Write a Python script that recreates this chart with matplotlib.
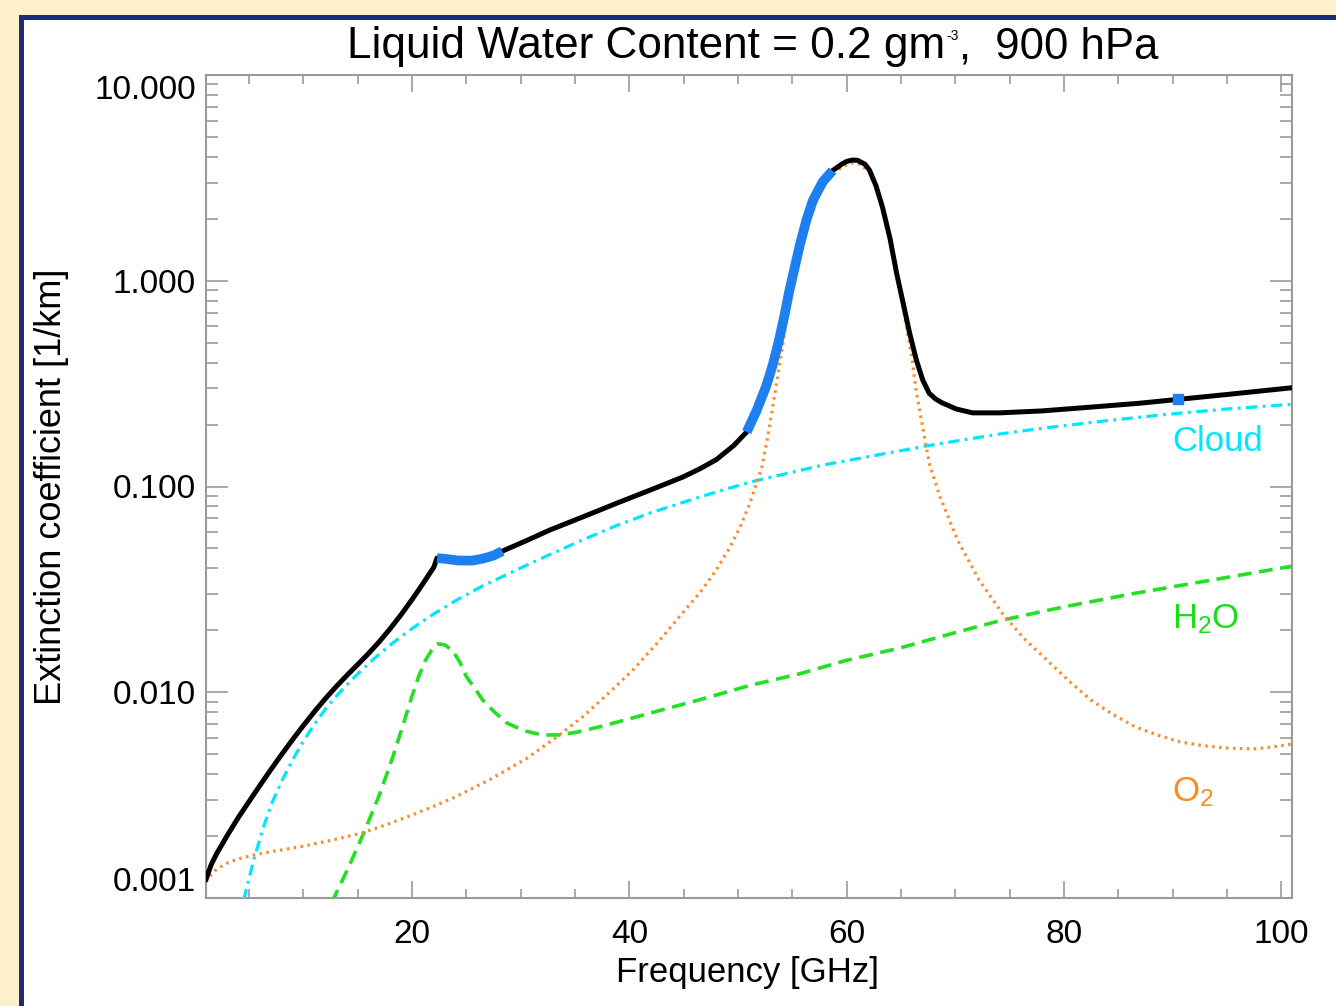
import matplotlib
matplotlib.use("Agg")
import matplotlib.pyplot as plt
from matplotlib.patches import Rectangle
from matplotlib.ticker import FixedLocator, NullFormatter

plt.rcParams['font.family'] = ['Liberation Sans', 'DejaVu Sans']
plt.rcParams['mathtext.fontset'] = 'custom'
plt.rcParams['mathtext.rm'] = 'Liberation Sans'
plt.rcParams['mathtext.default'] = 'regular'
plt.rcParams['lines.scale_dashes'] = False

# ---------------- data ----------------
total_f = [1.0, 1.5, 2.0, 3.0, 4.0, 5.0, 6.0, 7.0, 8.0, 9.0, 10.0, 11.0, 12.0, 13.0, 14.0,
           15.0, 16.0, 17.0, 18.0, 19.0, 20.0, 21.0, 22.0, 22.3]
total_v = [0.00122, 0.00145, 0.00164, 0.00202, 0.00246, 0.00295, 0.00353, 0.00421, 0.00499,
           0.00589, 0.00690, 0.00804, 0.00929, 0.01064, 0.01208, 0.01365, 0.01545, 0.01766,
           0.02042, 0.02388, 0.02825, 0.03373, 0.04055, 0.0449]
total_f += [23.2, 24.2, 25.5, 26.5, 27.5, 28.3, 30.5, 32.7, 35.7, 38.9, 41.9, 44.9, 46.5, 48.0,
            49.6, 50.8, 51.7, 52.6, 53.2, 53.8, 54.3, 54.7, 55.2, 55.7, 56.3, 56.9, 57.8, 58.7,
            59.6, 60.0, 60.5, 61.0, 61.7, 62.1, 62.7, 63.3, 64.0, 64.6, 65.2, 65.8, 66.4, 67.0,
            67.6, 68.2, 68.8, 70.1, 71.6, 74.1, 78.0, 83.3, 87.0, 90.5, 95.0, 101.0]
total_v += [0.0444, 0.0437, 0.0436, 0.0446, 0.0462, 0.0485, 0.0545, 0.0615, 0.0711, 0.0832,
            0.096, 0.111, 0.122, 0.135, 0.158, 0.184, 0.233, 0.308, 0.390, 0.521, 0.687, 0.88,
            1.148, 1.496, 1.972, 2.460, 3.027, 3.428, 3.70, 3.80, 3.86, 3.85, 3.68, 3.45, 2.90,
            2.28, 1.60, 1.09, 0.78, 0.557, 0.415, 0.330, 0.284, 0.266, 0.255, 0.238, 0.228,
            0.228, 0.233, 0.245, 0.254, 0.265, 0.280, 0.302]

# frequency ranges of the total curve highlighted in blue, and a single blue channel mark
band_ranges = [(22.3, 28.3), (50.8, 58.7)]
channel_marks_f = [90.5]

cloud_f = [4.5, 5.0, 5.5, 6.3, 7.1, 8.0, 9.0, 10.0, 11.1, 12.1, 13.2, 14.3, 15.4, 16.6, 17.8,
           19.1, 20.5, 22.0, 23.8, 26.5, 29.6, 32.6, 35.7, 38.8, 41.9, 46.5, 51.1, 57.8, 67.5,
           74.1, 78.4, 84.0, 89.4, 95.0, 101.0]
cloud_v = [0.00098, 0.00125, 0.00158, 0.0022, 0.0029, 0.0037, 0.00469, 0.0058, 0.0071, 0.0084,
           0.00979, 0.0113, 0.01288, 0.01472, 0.01667, 0.01884, 0.02128, 0.02404, 0.02748,
           0.03289, 0.03926, 0.0465, 0.055, 0.0645, 0.0743, 0.089, 0.105, 0.127, 0.158, 0.180,
           0.193, 0.209, 0.224, 0.238, 0.251]

h2o_f = [12.6, 14.2, 15.7, 17.0, 18.2, 19.1, 20.0, 20.6, 21.2, 21.8, 22.4, 23.0, 23.7, 24.4,
         25.0, 25.8, 26.5, 27.6, 28.7, 30.3, 32.0, 33.6, 35.2, 37.3, 39.5, 41.9, 46.5, 51.1,
         55.7, 60.0, 64.9, 70.0, 74.3, 80.0, 86.6, 92.5, 101.0]
h2o_v = [0.00095, 0.00143, 0.00216, 0.00318, 0.0048, 0.00675, 0.0096, 0.0119, 0.0142, 0.0160,
         0.0172, 0.0170, 0.0160, 0.0140, 0.0119, 0.0104, 0.00916, 0.0080, 0.0071, 0.0065,
         0.0062, 0.0062, 0.0064, 0.0068, 0.0073, 0.00792, 0.0092, 0.0108, 0.0123, 0.0143,
         0.0164, 0.0195, 0.0224, 0.0260, 0.0303, 0.0343, 0.0410]

o2_f = [1.0, 1.5, 2.0, 3.0, 4.0, 5.5, 7.0, 8.5, 10.1, 12.8, 15.4, 17.4, 19.3, 21.7, 24.0, 27.3,
        30.6, 33.2, 35.7, 38.0, 40.3, 42.6, 44.9, 46.5, 48.0, 49.2, 50.2, 51.1, 52.2, 52.8,
        53.4, 54.0, 54.5, 55.2, 56.3, 57.8, 58.7, 59.6, 60.5, 61.3, 62.1, 62.7, 63.3, 64.0,
        64.6, 65.2, 65.5, 66.0, 66.4, 67.0, 67.6, 68.6, 70.2, 72.2, 74.3, 76.3, 78.4, 80.5,
        82.5, 84.5, 86.6, 88.6, 90.7, 92.8, 94.9, 97.4, 99.0, 101.0]
o2_v = [0.00120, 0.00130, 0.00138, 0.00148, 0.00155, 0.00162, 0.00168, 0.00173, 0.00179,
        0.00192, 0.00207, 0.00225, 0.00245, 0.00275, 0.0031, 0.0038, 0.00479, 0.0060,
        0.00759, 0.0098, 0.0128, 0.0174, 0.0243, 0.0305, 0.0393, 0.050, 0.0636, 0.0832,
        0.124, 0.182, 0.284, 0.446, 0.66, 1.13, 1.88, 2.88, 3.28, 3.58, 3.74, 3.68, 3.35,
        2.85, 2.24, 1.57, 1.06, 0.74, 0.60, 0.43, 0.29, 0.195, 0.13, 0.089, 0.055, 0.0351,
        0.0243, 0.0183, 0.0144, 0.0113, 0.00916, 0.0078, 0.00678, 0.0062, 0.00573, 0.0055,
        0.00536, 0.0053, 0.0054, 0.0056]

x_ticks = [20, 40, 60, 80, 100]
y_ticks = [0.001, 0.01, 0.1, 1.0, 10.0]
y_ticklabels = ['0.001', '0.010', '0.100', '1.000', '10.000']

# ---------------- figure ----------------
W, H = 1336, 1006
fig = plt.figure(figsize=(W / 100, H / 100), dpi=100)
fig.patch.set_facecolor('#FEF0C9')

def fx(px):
    return px / W

def fy(py):
    return 1 - py / H

# white slide panel with navy border (extends past the right/bottom edges)
fig.patches.append(Rectangle((fx(21.5), fy(1100)), fx(1500) - fx(21.5), fy(16.5) - fy(1100),
                             transform=fig.transFigure, facecolor='white',
                             edgecolor='#1B2C7C', linewidth=3.6, zorder=-10))

ax = fig.add_axes([fx(205.7), fy(898), fx(1292) - fx(205.7), fy(75) - fy(898)])
ax.set_facecolor('white')
ax.set_yscale('log')
ax.set_xlim(1, 101)
ax.set_ylim(0.001, 10)

spine_c = '#9A9A9A'
for s in ax.spines.values():
    s.set_color(spine_c)
    s.set_linewidth(1.5)

BLUE = '#1E80F0'

# curves
ax.plot(cloud_f, cloud_v, color='#00E6FF', lw=2.3, dashes=(8, 4, 2, 4), zorder=3)
ax.plot(h2o_f, h2o_v, color='#22E022', lw=2.6, dashes=(10, 5.5), zorder=3)
ax.plot(o2_f, o2_v, color='#FF8A2A', lw=2.3, dashes=(1.8, 3.2), zorder=3)
ax.plot(total_f, total_v, color='black', lw=3.6, zorder=4, solid_capstyle='round')

for lo, hi in band_ranges:
    bf = [f for f in total_f if lo <= f <= hi]
    bv = [v for f, v in zip(total_f, total_v) if lo <= f <= hi]
    ax.plot(bf, bv, color=BLUE, lw=7.0, solid_capstyle='butt', zorder=5)

for cf in channel_marks_f:
    cv = total_v[total_f.index(cf)]
    ax.plot([cf], [cv], marker='s', ms=6.5, color=BLUE, mec=BLUE, zorder=5)

# ticks
ax.xaxis.set_major_locator(FixedLocator(x_ticks))
ax.xaxis.set_minor_locator(FixedLocator([f for f in range(5, 101, 5) if f % 20 != 0]))
ax.set_xticklabels([str(t) for t in x_ticks])
ax.set_yticks(y_ticks)
ax.set_yticklabels(y_ticklabels)
ax.yaxis.set_minor_locator(FixedLocator([m * 10.0 ** e for e in range(-3, 1) for m in range(2, 10)]))
ax.yaxis.set_minor_formatter(NullFormatter())

ax.tick_params(axis='both', which='both', direction='in', top=True, right=True,
               color=spine_c, width=1.2, labelcolor='black')
ax.tick_params(axis='x', which='major', length=12, pad=15, labelsize=24)
ax.tick_params(axis='x', which='minor', length=6.5)
ax.tick_params(axis='y', which='major', length=16, pad=7, labelsize=24)
ax.tick_params(axis='y', which='minor', length=8.5)

ylabs = ax.yaxis.get_majorticklabels()
ylabs[0].set_va('bottom')
ylabs[-1].set_va('top')

# series labels
ax.text(0.8895, 0.543, 'Cloud', transform=ax.transAxes, color='#00E6FF', fontsize=25,
        ha='left', va='baseline')
ax.text(0.8895, 0.328, 'H$_2$O', transform=ax.transAxes, color='#18DD18', fontsize=25,
        ha='left', va='baseline')
ax.text(0.8895, 0.118, 'O$_2$', transform=ax.transAxes, color='#FF8A1E', fontsize=25,
        ha='left', va='baseline')

# title (with small superscript as in the original)
fig.text(fx(945), fy(58), 'Liquid Water Content = 0.2 gm', fontsize=31.8,
         ha='right', va='baseline')
fig.text(fx(946), fy(40), '-3', fontsize=10, ha='left', va='baseline')
fig.text(fx(959), fy(58), ',  900 hPa', fontsize=31.5, ha='left', va='baseline')

fig.text(fx(748), fy(982), 'Frequency [GHz]', fontsize=25, ha='center', va='baseline')
fig.text(fx(52), fy(487), 'Extinction coefficient [1/km]', fontsize=26, rotation=90,
         ha='center', va='center')

fig.savefig('out.png', dpi=100, facecolor=fig.get_facecolor())
